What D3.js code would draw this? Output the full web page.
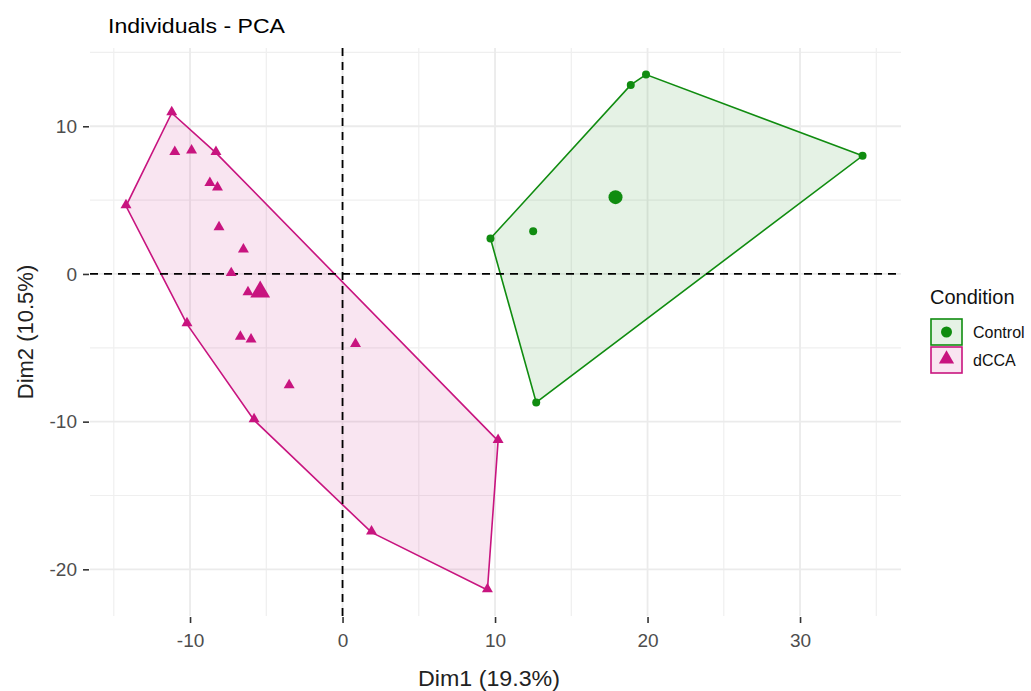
<!DOCTYPE html>
<meta charset="utf-8">
<script src="https://d3js.org/d3.v7.min.js"></script>
<style>
  body { margin: 0; background: #fff; }
  text { font-family: "Liberation Sans", Arial, sans-serif; }
</style>
<div id="my_dataviz"></div>
<script>

// data (Dim1, Dim2)
var controlX = [19.9, 18.9, 34.1, 12.5, 9.7, 12.7];
var controlY = [13.5, 12.8, 8.0, 2.9, 2.4, -8.7];
var dccaX = [-11.2, -11.0, -9.9, -8.3, -8.7, -8.2, -14.2, -8.1, -6.5, -7.3,
             -6.2, -10.2, -6.7, -6.0, 0.85, -3.5, -5.8, 10.2, 1.9, 9.5];
var dccaY = [10.9, 8.2, 8.3, 8.2, 6.1, 5.8, 4.6, 3.1, 1.6, 0.0,
             -1.3, -3.4, -4.3, -4.5, -4.8, -7.6, -9.9, -11.3, -17.5, -21.4];
// group means (big markers)
var centroidX = [17.9, -5.4];
var centroidY = [5.2, -1.35];

var groups = ["Control", "dCCA"];
var colors = ["#108c10", "#c8147f"];
var xTicks = [-10, 0, 10, 20, 30];
var yTicks = [-20, -10, 0, 10];
var xMinor = [-15, -5, 5, 15, 25, 35];
var yMinor = [-15, -5, 5, 15];

var W = 1031, H = 691;
var panel = {left: 90, right: 901, top: 48, bottom: 616};

var svg = d3.select("#my_dataviz")
  .append("svg")
    .attr("width", W)
    .attr("height", H);

var x = d3.scaleLinear().domain([-16.56, 36.62]).range([panel.left, panel.right]);
var y = d3.scaleLinear().domain([-23.16, 15.3]).range([panel.bottom, panel.top]);

// grid
var grid = svg.append("g");
grid.selectAll(".xminor").data(xMinor)
  .enter().append("line")
    .attr("x1", function(d){ return x(d); }).attr("x2", function(d){ return x(d); })
    .attr("y1", panel.top).attr("y2", panel.bottom)
    .attr("stroke", "#efefef").attr("stroke-width", 1.2);
grid.selectAll(".yminor").data(yMinor)
  .enter().append("line")
    .attr("y1", function(d){ return y(d); }).attr("y2", function(d){ return y(d); })
    .attr("x1", panel.left).attr("x2", panel.right)
    .attr("stroke", "#efefef").attr("stroke-width", 1.2);
grid.selectAll(".xmajor").data(xTicks)
  .enter().append("line")
    .attr("x1", function(d){ return x(d); }).attr("x2", function(d){ return x(d); })
    .attr("y1", panel.top).attr("y2", panel.bottom)
    .attr("stroke", "#ebebeb").attr("stroke-width", 1.8);
grid.selectAll(".ymajor").data(yTicks)
  .enter().append("line")
    .attr("y1", function(d){ return y(d); }).attr("y2", function(d){ return y(d); })
    .attr("x1", panel.left).attr("x2", panel.right)
    .attr("stroke", "#ebebeb").attr("stroke-width", 1.8);

// axes (plain hyphen for negatives, like R)
var fmt = function(d) { return String(d); };
var xAxis = svg.append("g")
  .attr("transform", "translate(0," + (panel.bottom + 1) + ")")
  .call(d3.axisBottom(x).tickValues(xTicks).tickSize(6).tickPadding(6).tickFormat(fmt));
var yAxis = svg.append("g")
  .attr("transform", "translate(" + (panel.left - 1) + ",0)")
  .call(d3.axisLeft(y).tickValues(yTicks).tickSize(6).tickPadding(6).tickFormat(fmt));
[xAxis, yAxis].forEach(function(a) {
  a.select(".domain").remove();
  a.selectAll(".tick line").attr("stroke", "#333").attr("stroke-width", 1.6);
  a.selectAll(".tick text").attr("fill", "#4d4d4d").style("font-size", "19px")
    .style("font-family", "'Liberation Sans', Arial, sans-serif");
});
xAxis.selectAll(".tick text").attr("dy", "0.95em");

// hulls + points
var pts = [
  d3.zip(controlX, controlY),
  d3.zip(dccaX, dccaY)
];
var triangle = d3.symbol().type(d3.symbolTriangle);

pts.forEach(function(p, i) {
  var hull = d3.polygonHull(p.map(function(d){ return [x(d[0]), y(d[1])]; }));
  svg.append("path")
    .attr("d", "M" + hull.join("L") + "Z")
    .attr("fill", colors[i]).attr("fill-opacity", 0.11)
    .attr("stroke", colors[i]).attr("stroke-width", 1.6);
});

// reference lines at 0
svg.append("line")
  .attr("x1", panel.left).attr("x2", panel.right)
  .attr("y1", y(0)).attr("y2", y(0))
  .attr("stroke", "#000").attr("stroke-width", 1.8).attr("stroke-dasharray", "8,6");
svg.append("line")
  .attr("x1", x(0)).attr("x2", x(0))
  .attr("y1", panel.top).attr("y2", panel.bottom)
  .attr("stroke", "#000").attr("stroke-width", 1.8).attr("stroke-dasharray", "8,6");

svg.append("g").selectAll("circle")
  .data(pts[0]).enter().append("circle")
    .attr("cx", function(d){ return x(d[0]); })
    .attr("cy", function(d){ return y(d[1]); })
    .attr("r", 4)
    .attr("fill", colors[0]);
svg.append("g").selectAll("path")
  .data(pts[1]).enter().append("path")
    .attr("d", triangle.size(52))
    .attr("transform", function(d){ return "translate(" + x(d[0]) + "," + (y(d[1]) - 1) + ")"; })
    .attr("fill", colors[1]);

// centroids
svg.append("circle")
  .attr("cx", x(centroidX[0])).attr("cy", y(centroidY[0]))
  .attr("r", 7).attr("fill", colors[0]);
svg.append("path")
  .attr("d", triangle.size(170))
  .attr("transform", "translate(" + x(centroidX[1]) + "," + (y(centroidY[1]) - 2) + ")")
  .attr("fill", colors[1]);

// titles
svg.append("text")
  .attr("x", 108).attr("y", 33)
  .attr("textLength", 177).attr("lengthAdjust", "spacingAndGlyphs")
  .style("font-size", "21px").attr("fill", "#000")
  .text("Individuals - PCA");

svg.append("text")
  .attr("x", 418).attr("y", 686)
  .attr("textLength", 142).attr("lengthAdjust", "spacingAndGlyphs")
  .style("font-size", "22px").attr("fill", "#222")
  .text("Dim1 (19.3%)");

svg.append("text")
  .attr("transform", "translate(33," + ((panel.top + panel.bottom) / 2) + ") rotate(-90)")
  .style("text-anchor", "middle").style("font-size", "22px").attr("fill", "#222")
  .text("Dim2 (10.5%)");

// legend
var lg = svg.append("g").attr("transform", "translate(930,0)");
lg.append("text").attr("x", 0).attr("y", 304)
  .style("font-size", "20px").attr("fill", "#111").text("Condition");

groups.forEach(function(g, i) {
  var top = 318 + i * 28;
  lg.append("rect")
    .attr("x", 1).attr("y", top + 1).attr("width", 31).attr("height", 26)
    .attr("fill", colors[i]).attr("fill-opacity", 0.11)
    .attr("stroke", colors[i]).attr("stroke-width", 1.6);
  if (i === 0) {
    lg.append("circle").attr("cx", 16.5).attr("cy", top + 14).attr("r", 5.5).attr("fill", colors[i]);
  } else {
    lg.append("path").attr("d", triangle.size(100))
      .attr("transform", "translate(16.5," + (top + 13) + ")").attr("fill", colors[i]);
  }
  lg.append("text").attr("x", 43).attr("y", top + 20)
    .style("font-size", "16px").attr("fill", "#111").text(g);
});

</script>
